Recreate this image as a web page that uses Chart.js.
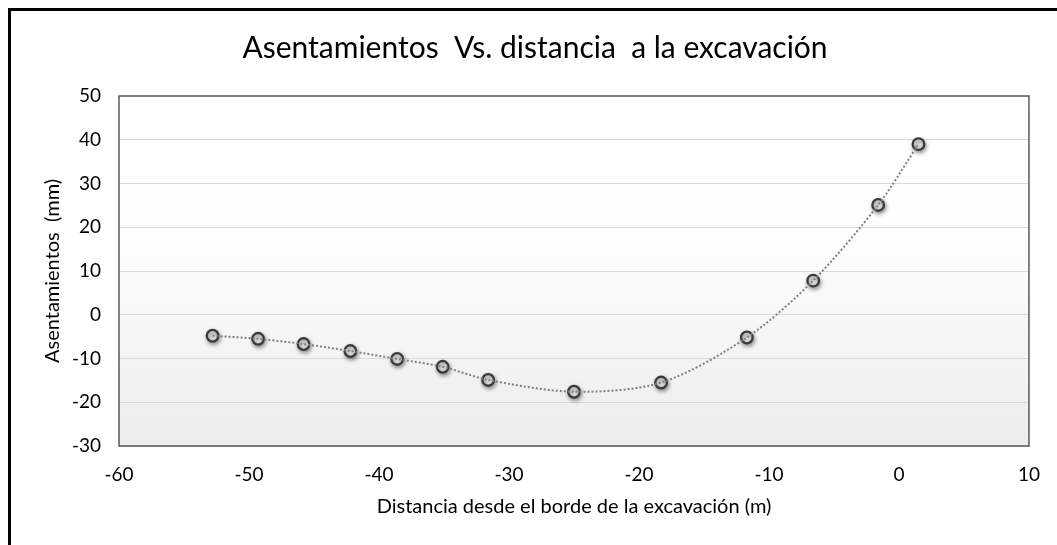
<!DOCTYPE html>
<html>
<head>
<meta charset="utf-8">
<script src="https://cdn.jsdelivr.net/npm/chart.js@4"></script>
<style>
  html, body { margin: 0; padding: 0; background: #ffffff; }
  #wrap { width: 1057px; height: 545px; position: relative; }
</style>
</head>
<body>
<div id="wrap"><canvas id="c" width="1057" height="545"></canvas></div>
<script>
// Data
const distances = [-52.8, -49.3, -45.8, -42.2, -38.6, -35.1, -31.6, -25.0, -18.3, -11.7, -6.6, -1.6, 1.5];
const settlements = [-4.8, -5.5, -6.7, -8.3, -10.1, -11.9, -14.9, -17.6, -15.5, -5.2, 7.8, 25.1, 39.0];
const xTicks = [-60, -50, -40, -30, -20, -10, 0, 10];
const yTicks = [-30, -20, -10, 0, 10, 20, 30, 40, 50];
const chartTitle = 'Asentamientos  Vs. distancia  a la excavación';
const xTitle = 'Distancia desde el borde de la excavación (m)';
const yTitle = 'Asentamientos  (mm)';

const points = distances.map((d, i) => ({ x: d, y: settlements[i] }));
const FONT = 'Lato, "Open Sans", sans-serif';

const decor = {
  id: 'decor',
  beforeDraw(chart) {
    const { ctx, chartArea: a } = chart;
    ctx.save();
    ctx.fillStyle = '#ffffff';
    ctx.fillRect(0, 0, chart.width, chart.height);
    const g = ctx.createLinearGradient(0, a.top, 0, a.bottom);
    g.addColorStop(0, '#ffffff');
    g.addColorStop(0.45, '#fdfdfd');
    g.addColorStop(1, '#ececec');
    ctx.fillStyle = g;
    ctx.fillRect(a.left, a.top, a.right - a.left, a.bottom - a.top);
    // outer frame
    ctx.strokeStyle = '#000000';
    ctx.lineWidth = 3;
    ctx.strokeRect(9.5, 9.5, chart.width + 20, chart.height + 20);
    ctx.restore();
  },
  afterDraw(chart) {
    const { ctx, chartArea: a } = chart;
    ctx.save();
    ctx.strokeStyle = '#595959';
    ctx.lineWidth = 1.5;
    ctx.strokeRect(a.left, a.top, a.right - a.left, a.bottom - a.top);
    ctx.restore();
  },
  beforeDatasetDraw(chart, args) {
    if (args.index === 1) {
      const ctx = chart.ctx;
      ctx.save();
      ctx.shadowColor = 'rgba(0,0,0,0.4)';
      ctx.shadowBlur = 4;
      ctx.shadowOffsetX = 1;
      ctx.shadowOffsetY = 2;
    }
  },
  afterDatasetDraw(chart, args) {
    if (args.index === 1) chart.ctx.restore();
  }
};

new Chart(document.getElementById('c'), {
  type: 'scatter',
  data: {
    datasets: [
      {
        data: points,
        showLine: true,
        borderColor: '#7f7f7f',
        borderWidth: 2,
        borderDash: [2, 2],
        tension: 0.3,
        pointRadius: 0,
        pointHoverRadius: 0
      },
      {
        data: points,
        showLine: false,
        pointRadius: 5.8,
        pointBorderWidth: 2.3,
        pointBackgroundColor: '#e0e0e0',
        pointBorderColor: '#3a3a3a'
      }
    ]
  },
  options: {
    responsive: false,
    animation: false,
    events: [],
    layout: { padding: { left: 41, right: 28, top: 0, bottom: 20 } },
    plugins: {
      legend: { display: false },
      tooltip: { enabled: false },
      title: {
        display: true,
        text: chartTitle,
        color: '#000000',
        font: { family: FONT, size: 30, weight: 'normal' },
        padding: { top: 30, bottom: 30 }
      }
    },
    scales: {
      x: {
        type: 'linear',
        min: xTicks[0],
        max: xTicks[xTicks.length - 1],
        afterBuildTicks(axis) { axis.ticks = xTicks.map(v => ({ value: v })); },
        afterFit(axis) { axis.height = 545 - 20 - 446; },
        grid: { display: false, drawTicks: false },
        border: { display: false },
        ticks: { color: '#000000', padding: 17, font: { family: FONT, size: 19 } },
        title: {
          display: true, text: xTitle, color: '#000000',
          font: { family: FONT, size: 20 }, padding: { top: 0, bottom: 6 }
        }
      },
      y: {
        type: 'linear',
        min: yTicks[0],
        max: yTicks[yTicks.length - 1],
        afterBuildTicks(axis) { axis.ticks = yTicks.map(v => ({ value: v })); },
        afterFit(axis) { axis.width = 119 - 41; },
        grid: { color: '#d9d9d9', lineWidth: 1, drawTicks: false },
        border: { display: false },
        ticks: { color: '#000000', padding: 18, font: { family: FONT, size: 19 } },
        title: {
          display: true, text: yTitle, color: '#000000',
          font: { family: FONT, size: 20 }, padding: { top: 0, bottom: 0 }
        }
      }
    }
  },
  plugins: [decor]
});
</script>
</body>
</html>
